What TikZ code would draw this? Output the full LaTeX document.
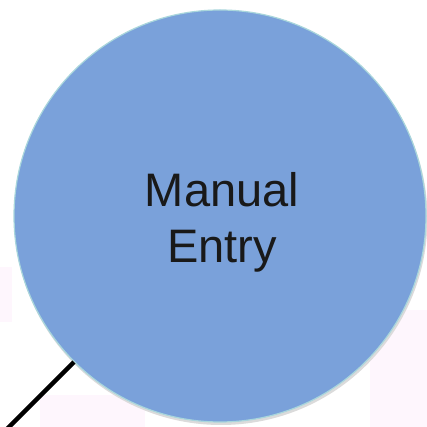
\documentclass[tikz,border=0pt]{standalone}
\usepackage{fontspec}
\setmainfont{Liberation Sans}
\definecolor{circfill}{HTML}{7AA1DA}
\definecolor{circedge}{HTML}{A9D6DC}
\definecolor{faintpink}{HTML}{FEF6FD}
\tikzset{
  bubble/.style={circle, draw=circedge, line width=1.2pt, fill=circfill, minimum size=412pt, inner sep=0pt},
  bubbletext/.style={font=\fontsize{47pt}{56pt}\selectfont, align=center, text=black!90, inner sep=0pt},
  link/.style={line width=4.5pt, black}
}
\begin{document}
\begin{tikzpicture}[x=1pt,y=1pt]
\useasboundingbox (0,0) rectangle (427,427);
\clip (0,0) rectangle (427,427);
\fill[white] (0,0) rectangle (427,427);
\fill[faintpink] (370,0) rectangle (427,117);
\fill[faintpink] (0,105) rectangle (12,160);
\fill[faintpink] (40,0) rectangle (145,32);
\fill[black!14] (221,208.5) circle (206.5pt);
\node[bubble] (c) at (220,211) {};
\node[bubbletext] (t) at ([shift={(2,-6)}]c.center) {Manual\\Entry};
\coordinate (e) at (4,-5);
\draw[link] (e) -- (c.{225.5});
\end{tikzpicture}
\end{document}
